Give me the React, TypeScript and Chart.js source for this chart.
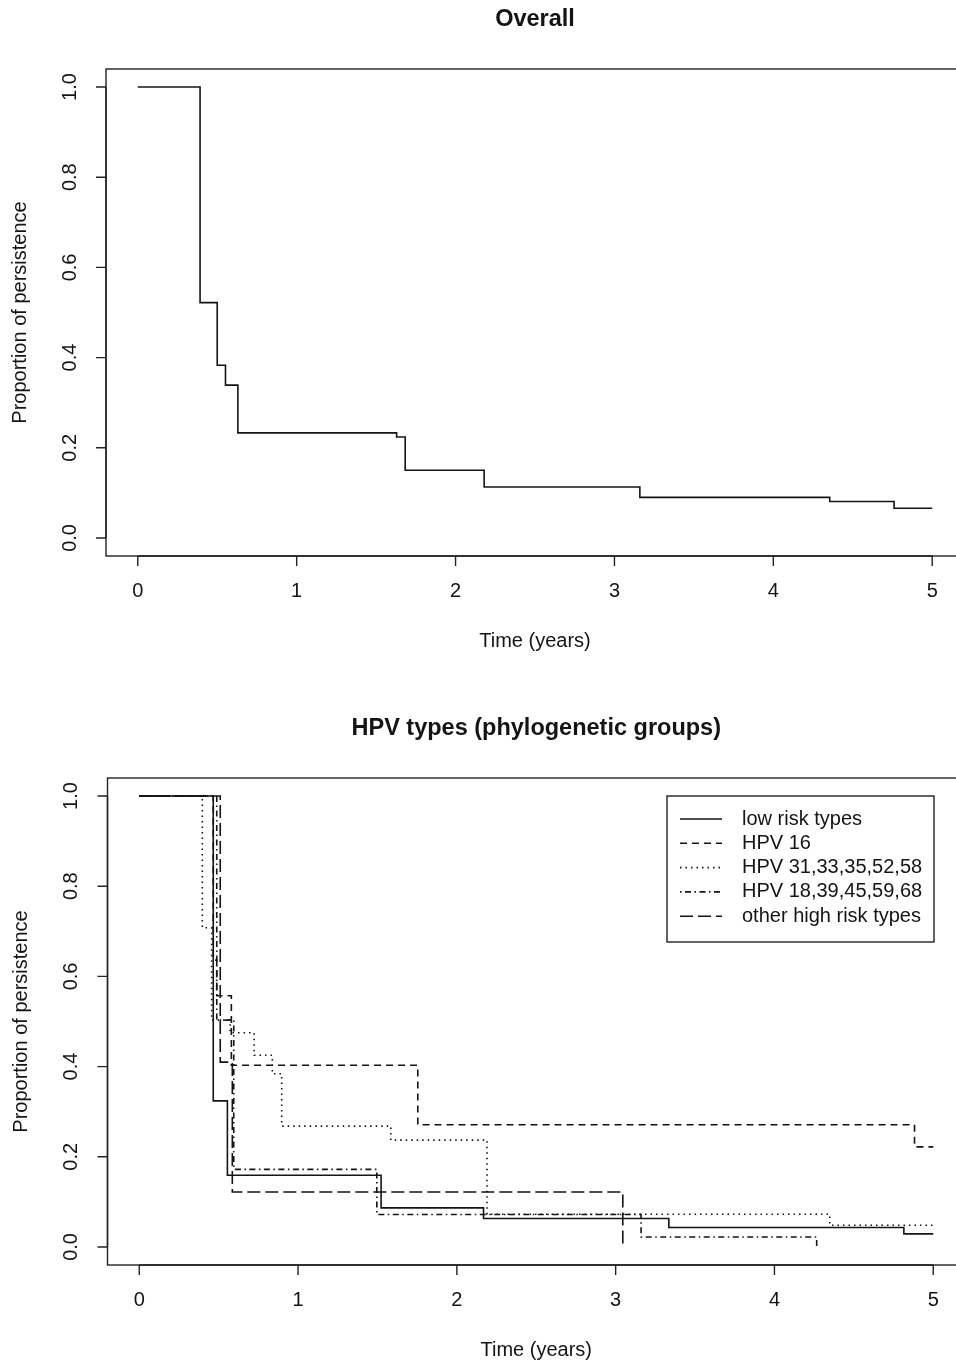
import React, { useEffect, useRef } from "react";
import { Chart, registerables } from "chart.js";

Chart.register(...registerables);

// ---------- axis ticks ----------
const xTicks = [0, 1, 2, 3, 4, 5];
const xTickLabels = ["0", "1", "2", "3", "4", "5"];
const yTicks = [0, 0.2, 0.4, 0.6, 0.8, 1.0];
const yTickLabels = ["0.0", "0.2", "0.4", "0.6", "0.8", "1.0"];

// ---------- Overall ----------
const overallTimes = [0, 0.392, 0.5, 0.552, 0.63, 1.629, 1.683, 2.18, 3.16, 4.355, 4.76, 5.0];
const overallSurv = [1, 0.522, 0.383, 0.339, 0.233, 0.224, 0.15, 0.113, 0.09, 0.081, 0.066, 0.066];

// ---------- HPV types ----------
const groupLabels = [
  "low risk types",
  "HPV 16",
  "HPV 31,33,35,52,58",
  "HPV 18,39,45,59,68",
  "other high risk types",
];

const lowRiskTimes = [0, 0.466, 0.555, 1.523, 2.168, 3.335, 4.815, 5.0];
const lowRiskSurv = [1, 0.324, 0.159, 0.0866, 0.063, 0.043, 0.029, 0.029];

const hpv16Times = [0, 0.466, 0.488, 0.58, 1.754, 4.882, 5.0];
const hpv16Surv = [1, 0.636, 0.557, 0.403, 0.271, 0.222, 0.222];

const hpv31Times = [0, 0.397, 0.456, 0.572, 0.723, 0.838, 0.897, 1.584, 2.19, 4.348, 5.0];
const hpv31Surv = [1, 0.708, 0.503, 0.475, 0.425, 0.384, 0.268, 0.237, 0.0725, 0.048, 0.048];

const hpv18Times = [0, 0.488, 0.595, 1.496, 3.16, 4.266];
const hpv18Surv = [1, 0.503, 0.172, 0.072, 0.022, 0];

const otherHighTimes = [0, 0.51, 0.586, 3.045];
const otherHighSurv = [1, 0.41, 0.122, 0];

const groupDashes: number[][] = [[], [7, 5], [1.5, 4], [1.5, 3.5, 6, 3.5], [13, 5]];

const FONT = '"Liberation Sans", Arial, Helvetica, sans-serif';
const INK = "#141414";

function toPoints(t: number[], s: number[]) {
  return t.map((x, i) => ({ x, y: s[i] }));
}

const rAxesPlugin = {
  id: "rAxes",
  afterDraw(chart: any, _args: any, opts: any) {
    const { ctx, chartArea: a } = chart;
    const xs = chart.scales.x;
    const ys = chart.scales.y;
    ctx.save();
    ctx.strokeStyle = "#222";
    ctx.lineWidth = 1.4;
    ctx.setLineDash([]);
    ctx.strokeRect(a.left, a.top, a.right - a.left, a.bottom - a.top);

    const x0 = xs.getPixelForValue(xTicks[0]);
    const x1 = xs.getPixelForValue(xTicks[xTicks.length - 1]);
    const y0 = ys.getPixelForValue(yTicks[0]);
    const y1 = ys.getPixelForValue(yTicks[yTicks.length - 1]);
    ctx.beginPath();
    ctx.moveTo(x0, a.bottom);
    ctx.lineTo(x1, a.bottom);
    xTicks.forEach((v) => {
      const px = xs.getPixelForValue(v);
      ctx.moveTo(px, a.bottom);
      ctx.lineTo(px, a.bottom + 10);
    });
    ctx.moveTo(a.left, y0);
    ctx.lineTo(a.left, y1);
    yTicks.forEach((v) => {
      const py = ys.getPixelForValue(v);
      ctx.moveTo(a.left, py);
      ctx.lineTo(a.left - 10, py);
    });
    ctx.stroke();

    ctx.fillStyle = INK;
    ctx.font = `20px ${FONT}`;
    ctx.textAlign = "center";
    ctx.textBaseline = "middle";
    xTicks.forEach((v, i) => {
      ctx.fillText(xTickLabels[i], xs.getPixelForValue(v), a.bottom + 35);
    });
    yTicks.forEach((v, i) => {
      ctx.save();
      ctx.translate(a.left - 36, ys.getPixelForValue(v));
      ctx.rotate(-Math.PI / 2);
      ctx.fillText(yTickLabels[i], 0, 0);
      ctx.restore();
    });

    const cx = (a.left + a.right) / 2;
    const cy = (a.top + a.bottom) / 2;
    ctx.fillText(opts.xTitle, cx, a.bottom + 85);
    ctx.save();
    ctx.translate(a.left - 86, cy);
    ctx.rotate(-Math.PI / 2);
    ctx.fillText(opts.yTitle, 0, 0);
    ctx.restore();

    ctx.font = `bold 23.5px ${FONT}`;
    ctx.fillText(opts.title, cx, a.top - 49);

    if (opts.legend) {
      const L = opts.legend;
      ctx.lineWidth = 1.4;
      ctx.strokeStyle = "#222";
      ctx.strokeRect(L.left, L.top, L.width, L.height);
      ctx.font = `20px ${FONT}`;
      ctx.textAlign = "left";
      chart.data.datasets.forEach((ds: any, i: number) => {
        const ry = L.top + 23 + i * 24.3;
        ctx.beginPath();
        ctx.setLineDash(ds.borderDash || []);
        ctx.lineWidth = 1.6;
        ctx.strokeStyle = ds.borderColor;
        ctx.moveTo(L.left + 13, ry);
        ctx.lineTo(L.left + 55, ry);
        ctx.stroke();
        ctx.setLineDash([]);
        ctx.fillText(ds.label, L.left + 75, ry);
      });
    }
    ctx.restore();
  },
};

function makeDataset(label: string, t: number[], s: number[], dash: number[]) {
  return {
    label,
    data: toPoints(t, s),
    stepped: true,
    borderColor: INK,
    borderWidth: 1.6,
    borderDash: dash,
    pointRadius: 0,
    fill: false,
    tension: 0,
  };
}

function KMChart(props: {
  width: number;
  height: number;
  padding: { left: number; right: number; top: number; bottom: number };
  datasets: any[];
  title: string;
  legend?: any;
}) {
  const ref = useRef<HTMLCanvasElement | null>(null);
  useEffect(() => {
    if (!ref.current) return;
    const chart = new Chart(ref.current, {
      type: "line",
      data: { datasets: props.datasets },
      options: {
        animation: false,
        responsive: false,
        maintainAspectRatio: false,
        devicePixelRatio: 1,
        layout: { padding: props.padding },
        scales: {
          x: { type: "linear", min: -0.2, max: 5.2, display: false },
          y: { type: "linear", min: -0.04, max: 1.04, display: false },
        },
        plugins: {
          legend: { display: false },
          title: { display: false },
          tooltip: { enabled: false },
          rAxes: {
            title: props.title,
            xTitle: "Time (years)",
            yTitle: "Proportion of persistence",
            legend: props.legend || null,
          },
        } as any,
      },
      plugins: [rAxesPlugin as any],
    });
    return () => chart.destroy();
  }, []);
  return (
    <canvas
      ref={ref}
      width={props.width}
      height={props.height}
      style={{ display: "block", width: props.width, height: props.height }}
    />
  );
}

export default function App() {
  const overallDatasets = [makeDataset("Overall", overallTimes, overallSurv, [])];
  const groupTimes = [lowRiskTimes, hpv16Times, hpv31Times, hpv18Times, otherHighTimes];
  const groupSurv = [lowRiskSurv, hpv16Surv, hpv31Surv, hpv18Surv, otherHighSurv];
  const groupDatasets = groupLabels.map((lab, i) =>
    makeDataset(lab, groupTimes[i], groupSurv[i], groupDashes[i])
  );
  return (
    <div
      style={{
        position: "absolute",
        left: 0,
        top: 0,
        width: 956,
        height: 1361,
        overflow: "hidden",
        background: "#fff",
      }}
    >
      <KMChart
        width={972}
        height={680}
        padding={{ left: 106, right: 8, top: 69, bottom: 124 }}
        datasets={overallDatasets}
        title="Overall"
      />
      <KMChart
        width={972}
        height={681}
        padding={{ left: 107.5, right: 7, top: 98, bottom: 96 }}
        datasets={groupDatasets}
        title="HPV types (phylogenetic groups)"
        legend={{ left: 667, top: 116, width: 267, height: 146 }}
      />
    </div>
  );
}
